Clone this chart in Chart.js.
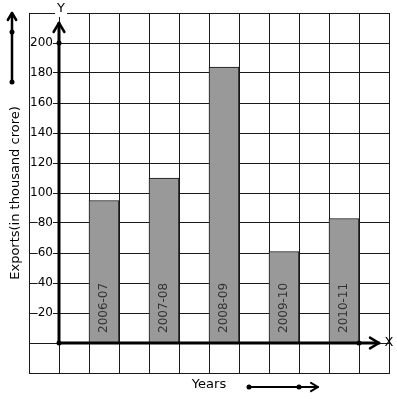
<!DOCTYPE html>
<html>
<head>
<meta charset="utf-8">
<script src="https://cdn.jsdelivr.net/npm/chart.js@4.4.1/dist/chart.umd.min.js"></script>
<style>
  body { margin: 0; background: #fff; }
  canvas { display: block; }
</style>
</head>
<body>
<canvas id="exportsChart" width="397" height="399"></canvas>
<script>
const years = ['2006-07', '2007-08', '2008-09', '2009-10', '2010-11'];
const exportsValues = [95, 110, 184, 61, 83];
const yTickValues = [20, 40, 60, 80, 100, 120, 140, 160, 180, 200];

// graph paper: 12 columns, a bar in every second one starting at column 2
const columnCount = 12;
const columns = Array(columnCount).fill('');
const columnValues = Array(columnCount).fill(null);
years.forEach((y, i) => {
    columns[2 + 2 * i] = y;
    columnValues[2 + 2 * i] = exportsValues[i];
});

const lineColor = '#1a1a1a';

function chevron(ctx, x, y, dx, dy, size) {
    // arrow head pointing in direction (dx, dy)
    ctx.beginPath();
    ctx.moveTo(x - dx * size - dy * size * 0.6, y - dy * size - dx * size * 0.6);
    ctx.lineTo(x, y);
    ctx.lineTo(x - dx * size + dy * size * 0.6, y - dy * size + dx * size * 0.6);
    ctx.stroke();
}

function dot(ctx, x, y, r) {
    ctx.beginPath();
    ctx.arc(x, y, r, 0, Math.PI * 2);
    ctx.fill();
}

const graphPaperAxes = {
    id: 'graphPaperAxes',
    afterDatasetsDraw(chart) {
        const ctx = chart.ctx;
        const xs = chart.scales.x;
        const ys = chart.scales.y;
        const base = ys.getPixelForValue(0);
        ctx.save();
        ctx.font = '12px "DejaVu Sans"';
        ctx.fillStyle = '#333';
        ctx.textAlign = 'left';
        ctx.textBaseline = 'middle';
        years.forEach((y, i) => {
            const cx = xs.getPixelForValue(2 + 2 * i);
            ctx.save();
            ctx.translate(cx, base - 10);
            ctx.rotate(-Math.PI / 2);
            ctx.fillText(y, 0, 0);
            ctx.restore();
        });
        ctx.restore();
    },
    afterDraw(chart) {
        const ctx = chart.ctx;
        const area = chart.chartArea;
        const xs = chart.scales.x;
        const ys = chart.scales.y;
        const ox = xs.getPixelForValue(0.5);
        const oy = ys.getPixelForValue(0);
        const yTop = ys.getPixelForValue(200);
        const xEnd = xs.getPixelForValue(10.5);

        ctx.save();
        ctx.strokeStyle = '#000';
        ctx.fillStyle = '#000';
        ctx.lineCap = 'round';
        ctx.lineJoin = 'round';

        // Y axis
        ctx.lineWidth = 3;
        ctx.beginPath();
        ctx.moveTo(ox, oy);
        ctx.lineTo(ox, yTop - 20);
        ctx.stroke();
        ctx.lineWidth = 2.5;
        chevron(ctx, ox, yTop - 20, 0, -1, 9);
        dot(ctx, ox, yTop, 2.5);

        // X axis
        ctx.lineWidth = 3;
        ctx.beginPath();
        ctx.moveTo(ox, oy);
        ctx.lineTo(xEnd + 20, oy);
        ctx.stroke();
        ctx.lineWidth = 2.5;
        chevron(ctx, xEnd + 20, oy, 1, 0, 9);
        dot(ctx, xEnd, oy, 2.5);
        dot(ctx, ox, oy, 2.5);

        // axis letters
        ctx.font = '13px "DejaVu Sans"';
        ctx.textAlign = 'center';
        ctx.textBaseline = 'middle';
        ctx.fillStyle = '#fff';
        ctx.fillRect(ox - 4, area.top - 6, 12, 10);
        ctx.fillStyle = '#000';
        ctx.fillText('Y', ox + 2, area.top - 4);
        ctx.fillText('X', xEnd + 30, oy);

        // direction arrows beside the axis titles
        ctx.lineWidth = 2.5;
        const lx = area.left - 17;
        ctx.beginPath();
        ctx.moveTo(lx, 82);
        ctx.lineTo(lx, 13);
        ctx.stroke();
        chevron(ctx, lx, 13, 0, -1, 7);
        dot(ctx, lx, 32, 2.5);
        dot(ctx, lx, 82, 2.5);

        ctx.lineWidth = 2;
        const by = area.bottom + 14;
        ctx.beginPath();
        ctx.moveTo(249, by);
        ctx.lineTo(318, by);
        ctx.stroke();
        chevron(ctx, 318, by, 1, 0, 7);
        dot(ctx, 249, by, 2.5);
        dot(ctx, 299, by, 2.5);
        ctx.restore();
    }
};

const showTick = v => yTickValues.includes(v);

new Chart(document.getElementById('exportsChart'), {
    type: 'bar',
    data: {
        labels: columns,
        datasets: [{
            label: 'Exports',
            data: columnValues,
            backgroundColor: '#999999',
            borderColor: '#111',
            borderWidth: 1,
            categoryPercentage: 1,
            barPercentage: 1
        }]
    },
    options: {
        responsive: false,
        animation: false,
        layout: { padding: { left: 3.4, top: 13, right: 8, bottom: 2.4 } },
        plugins: {
            legend: { display: false },
            tooltip: { enabled: false }
        },
        scales: {
            x: {
                offset: true,
                grid: { color: lineColor, lineWidth: 1, offset: true, drawTicks: false },
                border: { color: lineColor, width: 1 },
                ticks: { display: false },
                title: {
                    display: true,
                    text: 'Years',
                    color: '#000',
                    font: { family: 'DejaVu Sans', size: 13 }
                }
            },
            y: {
                min: -20,
                max: 220,
                grid: { color: lineColor, lineWidth: 1, drawTicks: false },
                border: { color: lineColor, width: 1 },
                ticks: {
                    stepSize: 20,
                    mirror: true,
                    crossAlign: 'far',
                    padding: 1,
                    color: '#000',
                    font: { family: 'DejaVu Sans', size: 12 },
                    showLabelBackdrop: true,
                    backdropPadding: { left: 0, right: 0, top: 0, bottom: 0 },
                    backdropColor: c => showTick(c.tick.value) ? '#fff' : 'rgba(0,0,0,0)',
                    callback: v => showTick(v) ? String(v) : ''
                },
                title: {
                    display: true,
                    text: 'Exports(in thousand crore)',
                    color: '#000',
                    font: { family: 'DejaVu Sans', size: 13 }
                }
            }
        }
    },
    plugins: [graphPaperAxes]
});
</script>
</body>
</html>
